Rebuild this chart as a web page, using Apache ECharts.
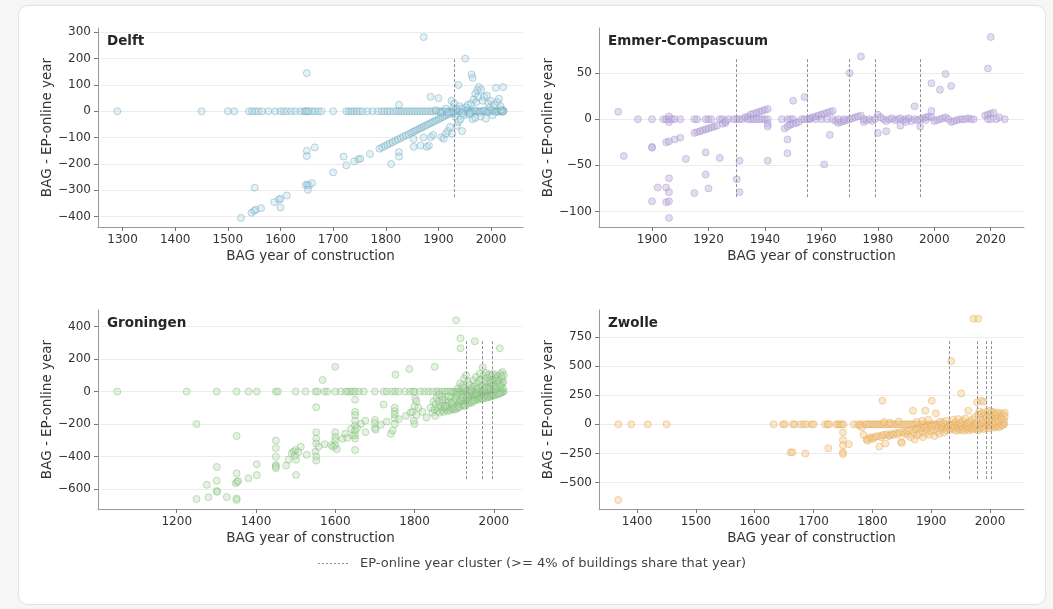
<!DOCTYPE html>
<html>
<head>
<meta charset="utf-8">
<script src="https://cdn.jsdelivr.net/npm/echarts@6/dist/echarts.min.js"></script>
<style>
  html, body { margin: 0; padding: 0; background: #f6f6f6; }
  #card { position: absolute; left: 18px; top: 5px; width: 1026px; height: 598px; background: #ffffff; border: 1px solid #e2e2e2; border-radius: 10px; }
  #chart { position: absolute; left: 0; top: 0; width: 1053px; height: 609px; }
</style>
</head>
<body>
<div id="card"></div>
<div id="chart"></div>
<script>
// ---- Data: [BAG year of construction, BAG - EP-online year] ----
const delftPoints = [
  [1290,0],[1450,0],[1500,0],[1512,0],[1540,0],[1546,0],[1552,0],[1558,0],[1565,0],[1577,0],[1590,0],[1600,0],[1606,0],[1612,0],[1620,0],[1628,0],[1638,0],[1645,0],[1648,0],[1651,0],[1654,0],[1660,0],[1665,0],[1672,0],[1678,0],[1700,0],[1725,0],[1730,0],[1735,0],[1740,0],[1745,0],[1750,0],[1756,0],[1765,0],[1775,0],[1785,0],[1792,0],[1798,0],[1803,0],[1808,0],[1815,0],[1820,0],[1825,0],[1830,0],[1835,0],[1840,0],[1845,0],[1850,0],[1855,0],[1860,0],[1865,0],[1870,0],[1875,0],[1880,0],[1885,0],[1890,0],[1895,0],[1900,0],[1904,0],[1908,0],[1912,0],[1916,0],[1920,0],[1924,0],[1928,0],[1932,0],[1936,0],[1940,0],[1944,0],[1948,0],[1952,0],[1956,0],[1960,0],[1964,0],[1968,0],[1972,0],[1976,0],[1980,0],[1984,0],[1988,0],[1992,0],[1996,0],[2000,0],[2004,0],[2008,0],[2012,0],[2016,0],[2019,0],[2021,0],[2022,2],[2023,3],[2024,1],
  [1955,5],[1962,-5],[1970,4],[1978,-4],[1986,3],[1994,-3],[2002,5],[2010,-3],[2018,4],[2020,6],[2022,-2],[1928,12],[1932,-12],
  [1525,-405],[1545,-385],[1550,-378],[1553,-374],[1551,-290],[1563,-368],[1588,-345],[1597,-335],[1600,-332],[1600,-365],[1612,-320],
  [1650,145],[1650,-150],[1650,-170],[1665,-137],[1648,-280],[1651,-278],[1654,-282],[1660,-273],[1652,-298],
  [1700,-232],[1720,-172],[1725,-205],[1740,-190],[1748,-182],[1752,-180],[1770,-162],[1788,-142],[1793,-137],[1798,-132],[1803,-127],[1810,-200],[1808,-122],[1813,-117],[1818,-112],[1823,-107],[1825,-155],[1825,-172],[1825,25],
  [1828,-102],[1833,-97],[1838,-92],[1843,-87],[1848,-82],[1852,-78],[1853,-135],[1853,-105],[1856,-74],[1860,-70],[1864,-66],[1866,-130],[1868,-62],[1872,-58],[1872,-100],[1872,282],[1876,-54],[1878,-135],[1880,-50],[1882,-130],[1884,-46],[1885,55],[1886,-98],[1888,-42],[1890,-90],[1892,-38],[1896,-34],[1900,-30],[1900,50],[1904,-26],[1906,-98],[1908,-22],[1910,-104],[1912,-18],[1914,-85],[1916,-14],[1918,-75],[1920,-10],[1922,-60],[1924,-6],[1925,40],[1926,-85],[1928,-3],
  [1930,30],[1932,-20],[1935,-55],[1938,100],[1938,-40],[1940,20],[1942,-30],[1945,-75],[1948,-15],[1951,200],[1952,15],[1956,25],[1958,-12],[1962,30],[1963,140],[1965,127],[1965,-30],[1967,45],[1970,-25],[1970,67],[1972,35],[1974,80],[1975,54],[1977,92],[1980,-20],[1981,82],[1984,40],[1987,55],[1990,-28],[1992,60],[1995,30],[1998,15],[2000,40],[2003,-15],[2006,25],[2009,89],[2012,35],[2015,48],[2018,20],[2023,92],
  [1944,10],[1946,-8],[1934,8],[1960,-8],[1914,10],[1918,-5],[1905,-5],[1895,5]
];

const emmerPoints = [
  [1888,8],[1890,-40],[1895,0],[1900,0],[1900,-30],[1900,-31],[1900,-89],[1902,-74],[1904,0],[1905,0],[1906,0],[1906,3],[1906,-3],[1907,0],[1905,-74],[1906,-79],[1905,-90],[1906,-89],[1906,-64],[1906,-107],[1905,-25],[1906,-24],[1908,-22],[1910,-20],[1908,0],[1910,0],[1912,-43],
  [1915,-80],[1915,-15],[1916,-14],[1917,-13],[1915,0],[1916,0],[1918,-12],[1919,-11],[1920,-10],[1921,-9],[1922,-8],[1923,-7],[1919,-36],[1919,-60],[1920,-75],[1919,0],[1920,0],[1921,0],[1924,-42],[1924,0],[1925,0],[1925,-5],[1926,-4],[1926,-2],[1927,0],[1929,0],[1930,0],[1931,0],[1932,0],[1930,-65],[1931,-45],[1931,-79],
  [1933,2],[1934,3],[1935,5],[1936,6],[1937,7],[1938,8],[1939,9],[1940,10],[1941,11],[1934,0],[1935,0],[1936,0],[1937,0],[1938,0],[1939,0],[1940,0],[1941,0],[1941,-5],[1941,-8],[1941,-45],
  [1946,0],[1948,0],[1949,0],[1950,0],[1947,-10],[1948,-8],[1949,-6],[1950,-5],[1951,-4],[1952,-3],[1948,-22],[1948,-37],[1950,20],[1954,24],[1953,0],[1954,0],[1955,0],[1956,0],
  [1956,1],[1957,2],[1958,3],[1959,4],[1960,5],[1961,6],[1962,7],[1963,8],[1964,9],[1963,-17],[1961,-49],[1958,0],[1960,0],[1962,0],[1964,0],
  [1965,-2],[1966,-4],[1967,-3],[1968,-2],[1969,-1],[1970,0],[1971,1],[1972,2],[1973,3],[1974,4],[1975,-3],[1976,-1],[1977,0],[1978,-2],[1979,0],[1980,5],[1981,2],[1982,0],[1983,-2],[1984,0],[1985,1],[1986,-1],[1987,0],[1988,1],[1989,-1],[1990,0],[1991,1],[1992,-2],[1993,0],[1994,-1],[1995,0],[1996,1],[1997,2],[1998,3],[1999,2],[2000,-2],[2001,-1],[2002,0],[2003,1],[2004,2],[2005,0],[2006,-3],[2007,-2],[2008,-1],[2009,0],[2010,0],[2012,1],[2013,0],[2014,0],
  [2018,4],[2019,5],[2020,6],[2021,7],[2022,0],[2020,0],[2019,0],[2023,2],[2025,0],
  [1970,50],[1974,68],[1980,-15],[1983,-13],[1988,-7],[1993,14],[1995,-8],[1999,9],[1999,39],[2002,32],[2004,49],[2006,36],[2019,55],[2020,89],
  [1966,0],[1968,0],[1975,0],[1990,-3],[1997,-1],[2011,0]
];

const groningenPoints = [
  [1050,0],[1225,0],[1301,0],[1351,0],[1381,0],[1402,0],[1450,0],[1455,0],[1500,0],[1525,0],[1550,0],[1555,0],[1573,0],[1580,0],[1600,0],[1614,0],[1627,0],[1632,0],[1639,0],[1645,0],[1651,0],[1660,0],[1672,0],[1700,0],[1722,0],[1730,0],[1743,0],[1751,0],[1760,0],[1776,0],[1789,0],[1797,0],[1800,0],[1814,0],[1825,0],[1835,0],[1845,0],[1855,0],[1862,0],[1870,0],[1877,0],[1884,0],[1890,0],[1896,0],[1902,0],[1906,0],[1910,0],[1914,0],[1918,0],[1922,0],[1926,0],[1930,0],[1934,0],[1938,0],[1942,0],[1946,0],[1950,0],[1954,0],[1958,0],[1962,0],[1966,0],[1970,0],[1974,0],[1978,0],[1982,0],[1986,0],[1990,0],[1994,0],[1998,0],[2002,0],[2006,0],[2010,0],[2014,0],[2018,0],[2022,0],[2025,0],
  [1250,-200],[1250,-662],[1280,-651],[1276,-575],[1301,-465],[1301,-549],[1301,-613],[1302,-618],[1326,-650],[1351,-274],[1351,-504],[1349,-565],[1352,-555],[1351,-658],[1351,-668],[1355,-552],[1381,-534],[1402,-448],[1402,-515],
  [1450,-302],[1450,-349],[1450,-401],[1450,-452],[1450,-462],[1450,-472],[1476,-456],[1482,-420],[1490,-380],[1495,-370],[1500,-360],[1501,-420],[1501,-514],[1498,-395],[1507,-372],[1513,-340],[1528,-390],
  [1552,-97],[1552,-250],[1552,-290],[1552,-320],[1550,-370],[1552,-400],[1552,-425],[1558,-340],[1568,71],[1573,-325],[1590,-330],
  [1600,153],[1600,-250],[1600,-280],[1600,-300],[1600,-330],[1595,-340],[1604,-355],[1618,-290],[1625,-260],[1630,-285],[1640,-230],[1645,-270],
  [1650,-50],[1650,-125],[1650,-145],[1650,-180],[1650,-210],[1650,-240],[1650,-270],[1650,-290],[1650,-360],[1655,-225],[1665,-200],[1676,-180],[1676,-250],
  [1700,-175],[1700,-195],[1700,-225],[1702,-235],[1715,-205],[1722,-80],[1730,-185],[1740,-260],[1745,-240],[1750,-165],[1750,-140],[1750,-120],[1750,-100],[1750,-200],[1752,105],[1760,-170],[1778,-150],[1787,139],[1790,-130],[1795,-125],[1798,-180],[1800,-200],[1800,-90],[1802,-45],[1805,-60],[1805,-145],[1810,-100],[1820,-125],[1830,-160],
  [1840,-100],[1845,-130],[1848,-60],[1850,-110],[1851,153],[1852,-150],[1853,-80],[1856,-40],[1858,-120],[1860,-100],[1862,-60],[1864,-130],[1866,-90],[1868,-30],[1870,-115],[1872,-70],[1874,-125],[1876,-100],[1878,-50],[1880,-110],[1882,-85],[1884,-120],[1886,-60],[1888,-95],[1890,-115],[1892,-40],[1894,-105],[1896,-80],[1898,-110],[1900,-60],[1902,-95],[1904,-110],[1906,-30],[1908,-85],[1910,-100],[1912,-70],[1914,-50],[1916,-90],[1918,-20],[1920,-80],[1922,-60],[1924,-40],[1926,-75],[1928,-55],[1930,-20],[1932,-65],[1934,-45],[1936,-30],[1938,-55],[1940,-10],[1942,-40],[1944,-25],[1946,-50],[1948,-35],[1950,-15],[1952,-40],[1954,-25],[1956,-45],[1958,-10],[1960,-35],[1962,-20],[1964,-30],[1966,-5],[1968,-25],[1970,-15],[1972,-30],[1974,-10],[1976,-20],[1978,-5],[1980,-25],[1982,-10],[1984,-15],[1986,-5],[1988,-20],[1990,-10],[1992,-15],[1994,-5],[1996,-10],[1998,-5],[2000,-15],[2004,-10],[2008,-5],[2012,-8],[2016,-5],[2020,-3],
  [1862,-20],[1870,-50],[1878,-90],[1886,-30],[1894,-70],[1900,-100],[1904,-45],[1908,-15],[1912,-95],[1916,-55],[1920,-35],[1924,-85],[1928,-90],[1932,-35],[1936,-75],[1940,-60],[1944,-70],[1948,-60],[1952,-55],[1956,-20],[1960,-50],[1964,-45],[1968,-40],[1972,-45],[1976,-35],[1980,-40],[1984,-30],[1988,-35],[1992,-30],[1996,-25],[2000,-25],[2004,-20],[2008,-15],[2012,-15],[2016,-12],
  [1905,440],[1916,328],[1916,267],[1952,310],[2015,267],[1910,20],[1915,50],[1920,35],[1925,80],[1930,100],[1935,60],[1940,40],[1945,20],[1948,70],[1950,30],[1955,90],[1958,50],[1962,25],[1965,110],[1968,75],[1970,40],[1972,150],[1975,100],[1978,60],[1980,115],[1982,30],[1984,85],[1986,50],[1988,105],[1990,70],[1992,20],[1994,95],[1996,40],[1998,110],[2000,60],[2002,80],[2004,30],[2006,100],[2008,50],[2010,90],[2012,20],[2014,70],[2016,110],[2018,40],[2020,80],[2022,120],[2024,60],[2025,100],[2023,20],[2021,50],[2019,95],[2017,30],[2013,45],[2009,65],[2005,15],[2001,35],[1997,75],[1993,55],[1989,25],[1985,15],[1977,25],[1973,10],[1963,65],[1957,15],[1942,10],[1928,15],[1924,25]
];

const zwollePoints = [
  [1368,0],[1390,0],[1418,0],[1450,0],[1632,0],[1648,0],[1651,0],[1665,0],[1668,0],[1678,0],[1683,0],[1688,0],[1697,0],[1700,0],[1720,0],[1724,0],[1726,0],[1738,0],[1742,0],[1745,0],[1748,0],[1751,0],[1768,0],[1775,0],[1780,0],[1785,0],[1790,0],[1793,0],[1796,0],[1800,0],[1803,0],[1806,0],[1810,0],[1813,0],[1817,0],[1820,0],[1824,0],[1828,0],[1832,0],[1836,0],[1840,0],[1844,0],[1848,0],[1852,0],[1856,0],[1860,0],[1864,0],[1868,0],[1872,0],[1876,0],[1880,0],[1884,0],[1888,0],[1892,0],[1896,0],[1900,0],[1904,0],[1908,0],[1912,0],[1916,0],[1920,0],[1924,0],[1928,0],[1932,0],[1936,0],[1940,0],[1944,0],[1948,0],[1952,0],[1956,0],[1960,0],[1964,0],[1968,0],[1972,0],[1976,0],[1980,0],[1984,0],[1988,0],[1992,0],[1996,0],[2000,0],[2004,0],[2008,0],[2012,0],[2016,0],[2020,0],[2024,0],
  [1368,-648],[1661,-240],[1664,-240],[1686,-250],[1725,-205],[1750,-70],[1750,-135],[1750,-180],[1750,-240],[1750,-255],[1760,-170],
  [1778,-10],[1782,-25],[1785,-90],[1790,-130],[1792,-140],[1795,-120],[1798,-110],[1800,-125],[1803,-115],[1806,-105],[1810,-100],[1812,-190],[1815,-110],[1817,-95],[1820,-90],[1822,-165],[1825,-85],[1828,-100],[1830,-95],[1833,-80],[1836,-90],[1840,-75],[1843,-85],[1846,-70],[1849,-150],[1850,-160],[1852,-65],[1855,-80],[1858,-60],[1860,-90],[1862,-55],[1865,-110],[1867,-50],[1870,-70],[1872,-130],[1874,-45],[1876,-95],[1878,-40],[1880,-80],[1882,-35],[1884,-60],[1886,-110],[1888,-30],[1890,-75],[1892,-25],[1894,-55],[1896,-90],[1898,-20],[1900,-65],[1902,-15],[1904,-45],[1906,-100],[1908,-10],[1910,-60],[1912,-30],[1914,-80],[1916,-5],[1918,-40],[1920,-25],[1922,-70],[1924,-15],[1926,-50],[1928,-35],[1930,-20],[1932,-45],[1934,-30],[1936,-10],[1938,-40],[1940,-25],[1942,-55],[1944,-15],[1946,-35],[1948,-50],[1950,-20],[1952,-45],[1954,-30],[1956,-55],[1958,-10],[1960,-40],[1962,-25],[1964,-50],[1966,-35],[1968,-20],[1970,-45],[1972,-30],[1974,-15],[1976,-40],[1978,-25],[1980,-50],[1983,-35],[1986,-20],[1989,-40],[1992,-30],[1995,-15],[1998,-35],[2001,-25],[2004,-10],[2007,-30],[2010,-20],[2013,-15],[2016,-25],[2019,-10],[2022,-5],
  [1817,202],[1820,20],[1830,15],[1845,25],[1869,117],[1875,20],[1885,30],[1890,117],[1895,40],[1901,202],[1908,94],[1915,25],[1920,15],[1925,30],[1934,542],[1938,40],[1942,20],[1946,45],[1951,265],[1954,30],[1958,50],[1963,117],[1966,25],[1970,40],[1972,905],[1980,905],[1974,60],[1978,189],[1980,85],[1982,110],[1984,60],[1985,202],[1989,194],[1986,90],[1988,40],[1990,100],[1992,75],[1994,55],[1996,110],[1998,80],[2000,117],[2001,60],[2003,95],[2005,40],[2006,105],[2008,70],[2010,90],[2011,50],[2013,100],[2015,75],[2017,30],[2018,95],[2020,60],[2022,85],[2024,40],[2025,100],[2025,70],[2023,20],[2019,45],[2014,20],[2009,25],[2004,15],[1999,30],[1993,20],[1987,15],[1977,15],[1962,10],[1950,10]
];

// EP-online year clusters (>= 4% of buildings share that year)
const delftClusters = [1930];
const emmerClusters = [1930, 1955, 1970, 1979, 1995];
const groningenClusters = [1930, 1970, 1996];
const zwolleClusters = [1930, 1978, 1994, 2002];

// Tick labels
const delftXTicks = [1300, 1400, 1500, 1600, 1700, 1800, 1900, 2000];
const delftYTicks = [-400, -300, -200, -100, 0, 100, 200, 300];
const emmerXTicks = [1900, 1920, 1940, 1960, 1980, 2000, 2020];
const emmerYTicks = [-100, -50, 0, 50];
const groningenXTicks = [1200, 1400, 1600, 1800, 2000];
const groningenYTicks = [-600, -400, -200, 0, 200, 400];
const zwolleXTicks = [1400, 1500, 1600, 1700, 1800, 1900, 2000];
const zwolleYTicks = [-500, -250, 0, 250, 500, 750];

const xAxisTitle = 'BAG year of construction';
const yAxisTitle = 'BAG - EP-online year';
const legendTitle = 'EP-online year cluster (>= 4% of buildings share that year)';

// ---- Layout and styling ----
const FONT = 'DejaVu Sans';
const CLUSTER_LINE = '#8f8f8f';
const panels = [
  { name: 'Delft', points: delftPoints, clusters: delftClusters, xTicks: delftXTicks, yTicks: delftYTicks,
    xRange: [1253.3, 2060.7], yRange: [-439.4, 316.4], left: 98, top: 28,
    fill: 'rgba(176,218,232,0.45)', edge: 'rgba(100,152,172,0.5)' },
  { name: 'Emmer-Compascuum', points: emmerPoints, clusters: emmerClusters, xTicks: emmerXTicks, yTicks: emmerYTicks,
    xRange: [1881.2, 2031.8], yRange: [-116.8, 98.8], left: 599, top: 28,
    fill: 'rgba(192,176,222,0.55)', edge: 'rgba(155,135,198,0.5)' },
  { name: 'Groningen', points: groningenPoints, clusters: groningenClusters, xTicks: groningenXTicks, yTicks: groningenYTicks,
    xRange: [1001.3, 2073.7], yRange: [-723.8, 502.8], left: 98, top: 310,
    fill: 'rgba(178,222,170,0.45)', edge: 'rgba(120,176,115,0.5)' },
  { name: 'Zwolle', points: zwollePoints, clusters: zwolleClusters, xTicks: zwolleXTicks, yTicks: zwolleYTicks,
    xRange: [1335.2, 2057.8], yRange: [-725.5, 979.5], left: 599, top: 310,
    fill: 'rgba(246,204,140,0.55)', edge: 'rgba(220,165,90,0.55)' }
];
const GRID_W = 425, GRID_H = 199;
const minusFmt = v => String(v).replace('-', '\u2212');

const chart = echarts.init(document.getElementById('chart'), null, { renderer: 'canvas' });

const option = {
  animation: false,
  backgroundColor: 'transparent',
  title: panels.map(p => ({
    text: p.name, left: p.left + 9, top: p.top + 6, padding: 0,
    textStyle: { fontFamily: FONT, fontSize: 13.5, fontWeight: 'bold', color: '#262626' }
  })),
  grid: panels.map(p => ({ left: p.left, top: p.top, width: GRID_W, height: GRID_H, containLabel: false })),
  xAxis: panels.map((p, i) => ({
    type: 'value', gridIndex: i, min: p.xRange[0], max: p.xRange[1],
    name: xAxisTitle, nameLocation: 'middle', nameGap: 22,
    nameTextStyle: { fontFamily: FONT, fontSize: 13.5, color: '#333' },
    axisLine: { show: true, onZero: false, lineStyle: { color: '#9a9a9a', width: 1 } },
    axisTick: { show: true, length: 4, customValues: p.xTicks, lineStyle: { color: '#777' } },
    axisLabel: { customValues: p.xTicks, margin: 7, formatter: minusFmt,
      fontFamily: FONT, fontSize: 12, color: '#333' },
    splitLine: { show: false }
  })),
  yAxis: panels.map((p, i) => ({
    type: 'value', gridIndex: i, min: p.yRange[0], max: p.yRange[1],
    name: yAxisTitle, nameLocation: 'middle', nameGap: 43, nameRotate: 90,
    nameTextStyle: { fontFamily: FONT, fontSize: 13.5, color: '#333' },
    axisLine: { show: true, onZero: false, lineStyle: { color: '#9a9a9a', width: 1 } },
    axisTick: { show: true, length: 4, customValues: p.yTicks, lineStyle: { color: '#777' } },
    axisLabel: { customValues: p.yTicks, margin: 7, formatter: minusFmt,
      fontFamily: FONT, fontSize: 12, color: '#333' },
    splitLine: { show: true, lineStyle: { color: '#ececec', width: 1 } }
  })),
  // Legend entry for the dashed cluster markers
  graphic: [
    { type: 'line', silent: true, shape: { x1: 318, y1: 563.5, x2: 348, y2: 563.5 },
      style: { stroke: CLUSTER_LINE, lineWidth: 1, lineDash: [2, 2] } },
    { type: 'text', silent: true, x: 360, y: 563.5,
      style: { text: legendTitle, fill: '#444', font: '13px "DejaVu Sans"', textVerticalAlign: 'middle', verticalAlign: 'middle' } }
  ],
  series: panels.map((p, i) => {
    const yLo = p.yRange[0] + 0.15 * (p.yRange[1] - p.yRange[0]);
    const yHi = p.yRange[0] + 0.85 * (p.yRange[1] - p.yRange[0]);
    return {
      type: 'scatter', name: p.name, xAxisIndex: i, yAxisIndex: i,
      data: p.points, symbol: 'circle', symbolSize: 7,
      itemStyle: { color: p.fill, borderColor: p.edge, borderWidth: 1 },
      emphasis: { disabled: true }, silent: true,
      markLine: {
        silent: true, symbol: ['none', 'none'], label: { show: false },
        lineStyle: { type: [3, 2], color: CLUSTER_LINE, width: 1 },
        data: p.clusters.map(c => [{ coord: [c, yLo] }, { coord: [c, yHi] }])
      }
    };
  })
};

chart.setOption(option);
</script>
</body>
</html>
